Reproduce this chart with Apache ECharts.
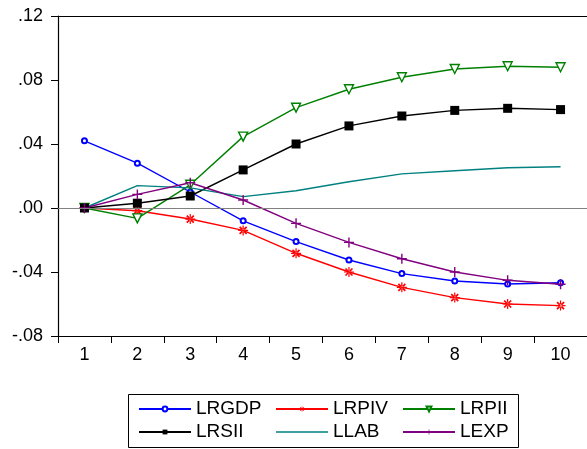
<!DOCTYPE html>
<html><head><meta charset="utf-8">
<script src="https://cdn.jsdelivr.net/npm/echarts@6/dist/echarts.min.js"></script>
<style>html,body{margin:0;padding:0;background:#fff}#c{width:587px;height:449px}</style>
</head><body><div id="c"></div>
<script>
const categories = ['1','2','3','4','5','6','7','8','9','10'];
const LRGDP = [0.042, 0.028, 0.010, -0.008, -0.021, -0.0325, -0.041, -0.0456, -0.0475, -0.0467];
const LRPIV = [0, -0.0017, -0.0069, -0.014, -0.0283, -0.040, -0.0496, -0.056, -0.060, -0.061];
const LRPII = [0, -0.0065, 0.0145, 0.0446, 0.0627, 0.0742, 0.0817, 0.0869, 0.0886, 0.088];
const LRSII = [0, 0.003, 0.0075, 0.0238, 0.040, 0.0513, 0.0575, 0.061, 0.0623, 0.0615];
const LLAB  = [0, 0.0140, 0.0126, 0.0071, 0.0108, 0.0164, 0.0213, 0.0233, 0.0252, 0.0258];
const LEXP  = [0, 0.0085, 0.0158, 0.005, -0.0096, -0.0215, -0.0317, -0.040, -0.0452, -0.0477];
const yTickLabels = {'-0.08':'-.08','-0.04':'-.04','0':'.00','0.04':'.04','0.08':'.08','0.12':'.12'};

const FONT = '"Liberation Sans", Arial, sans-serif';
const asterisk = 'path://M-0.6,-5L0.6,-5L0.6,5L-0.6,5ZM-5,-0.6L5,-0.6L5,0.6L-5,0.6ZM2.9,4.1L4.1,2.9L-2.9,-4.1L-4.1,-2.9ZM4.1,-2.9L2.9,-4.1L-4.1,2.9L-2.9,4.1Z';
const plus = 'path://M-0.7,-5L0.7,-5L0.7,5L-0.7,5ZM-5,-0.7L5,-0.7L5,0.7L-5,0.7Z';
const lineIcon = 'path://M0,0L52,0L52,1.4L0,1.4Z';

function ser(name, data, color, symbol, size, extra) {
  return Object.assign({
    name, type: 'line', data, symbol, symbolSize: size,
    showSymbol: symbol !== 'none',
    lineStyle: { color, width: 1.4 },
    itemStyle: { color },
    emphasis: { disabled: true },
    animation: false, z: 3
  }, extra || {});
}

const series = [
  ser('LRGDP', LRGDP, '#0000ff', 'emptyCircle', 5, { itemStyle: { color: '#0000ff', borderWidth: 1.4 } }),
  ser('LRPIV', LRPIV, '#ff0000', asterisk, 10),
  ser('LRPII', LRPII, '#008000', 'triangle', 9, { symbolRotate: 180, itemStyle: { color: '#ffffff', borderColor: '#008000', borderWidth: 1.4 } }),
  ser('LRSII', LRSII, '#000000', 'rect', 9),
  ser('LLAB', LLAB, '#008080', 'none', 0),
  ser('LEXP', LEXP, '#800080', plus, 10)
];
series[0].markLine = {
  silent: true, symbol: 'none', animation: false,
  label: { show: false },
  lineStyle: { color: '#808080', width: 1.2, type: 'solid' },
  data: [{ yAxis: 0 }]
};

const legendCommon = {
  orient: 'vertical', itemWidth: 52, itemHeight: 6, itemGap: 1,
  textStyle: { fontFamily: FONT, fontSize: 19, color: '#000', lineHeight: 22 },
  selectedMode: false, padding: 0
};

const chart = echarts.init(document.getElementById('c'), null, { renderer: 'canvas' });
chart.setOption({
  animation: false,
  backgroundColor: '#fff',
  grid: { left: 58, top: 16, width: 532, bottom: 113, containLabel: false },
  xAxis: [{
    type: 'category', data: categories, boundaryGap: true, position: 'bottom',
    axisLine: { onZero: false, lineStyle: { color: '#000', width: 1.2 } },
    axisTick: { show: true, length: 7, lineStyle: { color: '#000' } },
    axisLabel: { fontFamily: FONT, fontSize: 18, color: '#000', margin: 10 },
    splitLine: { show: false }
  }, {
    type: 'category', data: categories, position: 'top',
    axisLine: { show: true, onZero: false, lineStyle: { color: '#000', width: 1.2 } },
    axisTick: { show: false }, axisLabel: { show: false }
  }],
  yAxis: {
    type: 'value', min: -0.08, max: 0.12, interval: 0.04,
    axisLine: { show: true, onZero: false, lineStyle: { color: '#000', width: 1.2 } },
    axisTick: { show: true, length: 7, lineStyle: { color: '#000' } },
    axisLabel: { fontFamily: FONT, fontSize: 18, color: '#000', margin: 15,
      formatter: v => yTickLabels[String(Math.round(v * 100) / 100)] },
    splitLine: { show: false }
  },
  legend: [
    Object.assign({ left: 138, top: 398, data: ['LRGDP', 'LRSII'] }, legendCommon),
    Object.assign({ left: 275, top: 398, data: ['LRPIV', { name: 'LLAB', icon: lineIcon, itemStyle: { color: '#008080' } }] }, legendCommon),
    Object.assign({ left: 402, top: 398, data: ['LRPII', 'LEXP'] }, legendCommon)
  ],
  graphic: [{
    type: 'rect', shape: { x: 128.5, y: 394.5, width: 390, height: 53 },
    style: { fill: 'none', stroke: '#000', lineWidth: 1 }, silent: true, z: 0
  }],
  series
});
</script></body></html>
